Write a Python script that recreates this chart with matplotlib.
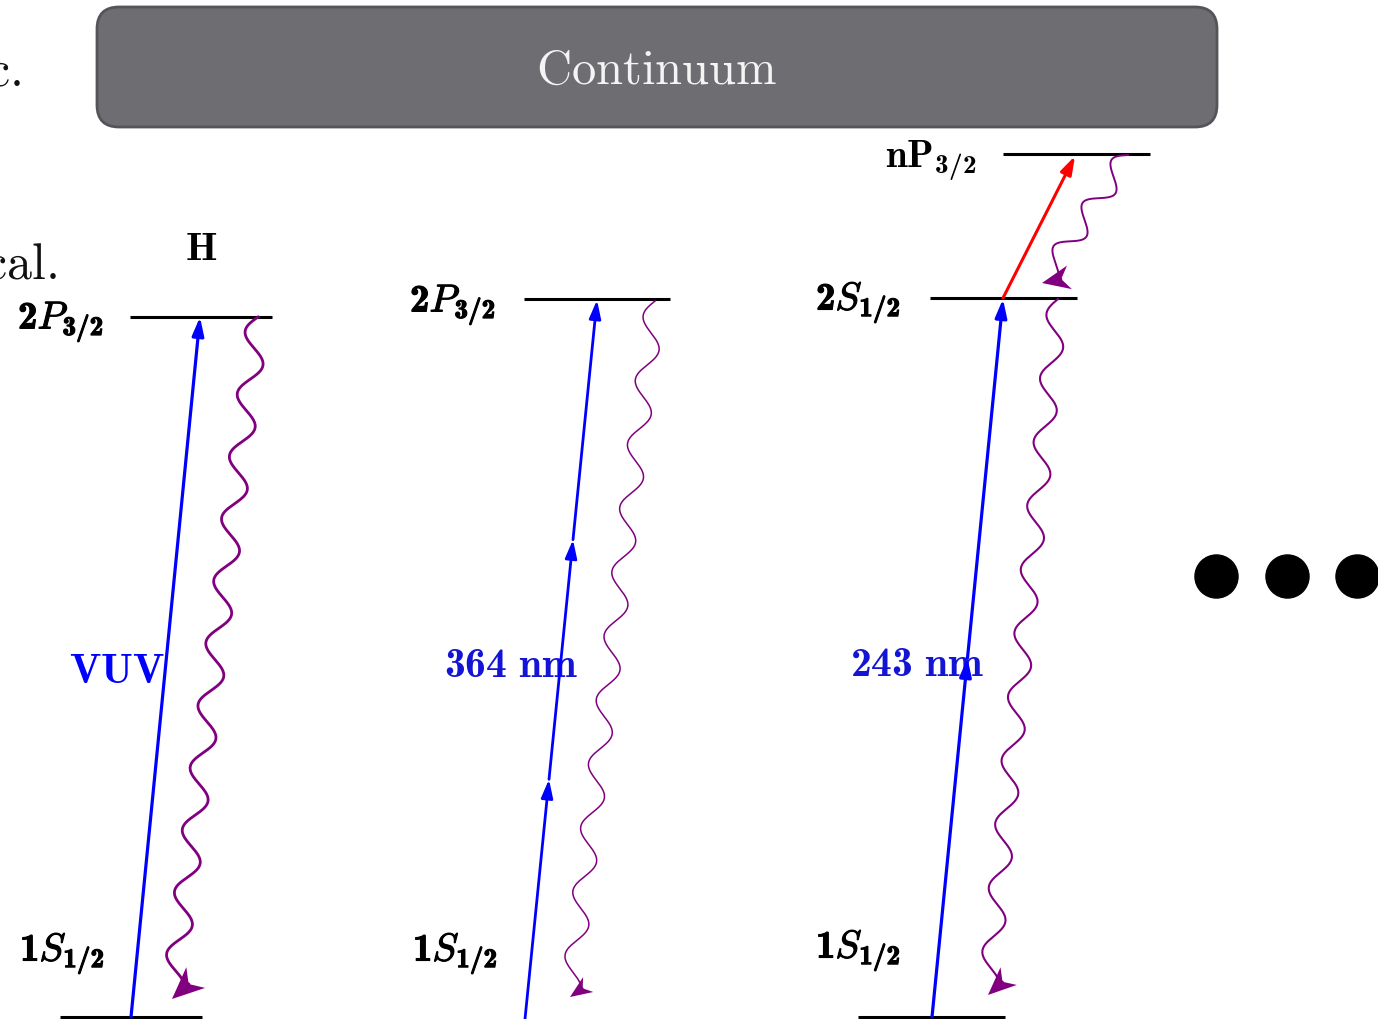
import matplotlib
matplotlib.use('Agg')
import matplotlib.pyplot as plt
import matplotlib.patheffects as pe
from matplotlib.patches import FancyBboxPatch
import numpy as np

plt.rcParams['mathtext.fontset'] = 'custom'
plt.rcParams['mathtext.rm'] = 'cmr10'
plt.rcParams['mathtext.it'] = 'cmmi10'
plt.rcParams['mathtext.bf'] = 'cmb10'
plt.rcParams['font.family'] = 'serif'

W, H = 1378, 1020

# ── Energy levels: label, y, x_left, x_right, label position ────────────────
LEVEL_LABELS = [r'$\mathbf{2}P_{\mathbf{3/2}}$', r'$\mathbf{1}S_{\mathbf{1/2}}$',
                r'$\mathbf{2}P_{\mathbf{3/2}}$', r'$\mathbf{1}S_{\mathbf{1/2}}$',
                r'$\mathbf{2}S_{\mathbf{1/2}}$', r'$\mathbf{1}S_{\mathbf{1/2}}$',
                r'$\mathbf{nP_{3/2}}$']
LEVEL_Y      = [318, 1018, 300, 1040, 299, 1018, 155]
LEVEL_X0     = [130, 60, 524, 454, 930, 858, 1003]
LEVEL_X1     = [272, 202, 670, 600, 1077, 1005, 1150]
LABEL_XY     = [(18, 323), (20, 955), (410, 306), (413, 955),
                (816, 304), (816, 952), (885, 161)]

# ── Excitation arrows: start, end, number of photon steps, label ─────────────
EXC_START  = [(131, 1018), (525, 1020), (932, 1018)]
EXC_END    = [(200, 318), (597, 301), (1003, 300)]
EXC_STEPS  = [1, 3, 2]
EXC_LW     = [2.3, 2.0, 2.3]
EXC_LABELS = [r'$\mathbf{VUV}$', r'$\mathbf{364\ nm}$', r'$\mathbf{243\ nm}$']
EXC_LABEL_XY = [(117, 671), (511, 665), (917, 664)]
EXC_LABEL_COL = ['#0000ff', '#1414d4', '#1414d4']

# ── Spontaneous decays (wavy) ────────────────────────────────────────────────
DEC_START = [(258, 318), (655, 302), (1058, 300), (1128, 156)]
DEC_END   = [(172, 1000), (570, 998), (988, 996), (1042, 284)]
DEC_LW    = [2.0, 1.1, 1.5, 1.4]
DEC_AMP   = [11, 10, 10, 11]
DEC_WAVE  = [62, 64, 62, 62]
DEC_HEAD  = [(32, 14), (22, 9), (28, 12), (28, 12)]   # length, half width (px)

PURPLE = '#800080'

fig = plt.figure(figsize=(W / 100, H / 100), dpi=100)
ax = fig.add_axes([0, 0, 1, 1])
ax.set_xlim(0, W)
ax.set_ylim(H, 0)
ax.axis('off')

bold = [pe.withStroke(linewidth=0.8, foreground='black')]

# continuum band
box = FancyBboxPatch((97, 8), 1120, 120, boxstyle='round,pad=0,rounding_size=22',
                     fc='#6e6d72', ec='#555459', lw=2.0)
ax.add_patch(box)
ax.text(657, 70, r'$\mathrm{Continuum}$', color='#f4f4f4', fontsize=35,
        ha='center', va='center')

# clipped text from the slide behind
ax.text(21, 72, r'$\mathrm{c.}$', fontsize=36, ha='right', va='center', color='#111111')
ax.text(57, 265, r'$\mathrm{cal.}$', fontsize=36, ha='right', va='center', color='#111111')

ax.text(201, 250, r'$\mathbf{H}$', fontsize=29, ha='center', va='center')

for lab, y, x0, x1, (lx, ly) in zip(LEVEL_LABELS, LEVEL_Y, LEVEL_X0, LEVEL_X1, LABEL_XY):
    ax.plot([x0, x1], [y, y], color='black', lw=2.2, solid_capstyle='butt', zorder=3)
    t = ax.text(lx, ly, lab, fontsize=28, ha='left', va='center')
    if 'mathbf{n' not in lab:
        t.set_path_effects(bold)

# excitation arrows, split into photon steps
for (x0, y0), (x1, y1), n, lw in zip(EXC_START, EXC_END, EXC_STEPS, EXC_LW):
    xs = np.linspace(x0, x1, n + 1)
    ys = np.linspace(y0, y1, n + 1)
    for i in range(n):
        ax.annotate('', xy=(xs[i + 1], ys[i + 1]), xytext=(xs[i], ys[i]),
                    arrowprops=dict(arrowstyle='-|>,head_length=1.1,head_width=0.35',
                                    color='#0000ff', lw=lw, shrinkA=0, shrinkB=0),
                    zorder=4)

for lab, (lx, ly), c in zip(EXC_LABELS, EXC_LABEL_XY, EXC_LABEL_COL):
    ax.text(lx, ly, lab, fontsize=30, color=c, ha='center', va='center', zorder=2)

# red arrow 2S -> nP
ax.annotate('', xy=(1075, 157), xytext=(1003, 299),
            arrowprops=dict(arrowstyle='-|>,head_length=1.1,head_width=0.35',
                            color='#ff0000', lw=2.2, shrinkA=0, shrinkB=0), zorder=4)


def stealth(tip, back, length, half):
    """Filled stealth head with its point at tip, aimed away from back."""
    tip = np.asarray(tip, float)
    u = tip - np.asarray(back, float)
    u /= np.hypot(*u)
    n = np.array([-u[1], u[0]])
    base = tip - length * u
    poly = np.array([tip, base + half * n, tip - 0.7 * length * u, base - half * n])
    ax.fill(poly[:, 0], poly[:, 1], color=PURPLE, lw=0, zorder=4)
    return tip - 0.7 * length * u


def wavy(p0, p1, amp, lam, lw, hl, hw):
    p0 = np.asarray(p0, float)
    p1 = np.asarray(p1, float)
    d = p1 - p0
    L = np.hypot(*d)
    t = d / L
    nrm = np.array([-t[1], t[0]])
    # finish the wave on its right-hand crest so the head points down-left
    run = L - 0.4 * hl
    k = max(round(run / lam - 0.75), 0)
    lam = run / (k + 0.75)
    s = np.linspace(0, run, 800)
    off = amp * np.sin(2 * np.pi * s / lam)
    pts = p0[None, :] + s[:, None] * t[None, :] + off[:, None] * nrm[None, :]
    notch = stealth(p1, pts[-1], hl, hw)
    pts = np.vstack([pts, notch])
    ax.plot(pts[:, 0], pts[:, 1], color=PURPLE, lw=lw, zorder=3)


for p0, p1, lw, a, lam, (hl, hw) in zip(DEC_START, DEC_END, DEC_LW, DEC_AMP,
                                        DEC_WAVE, DEC_HEAD):
    wavy(p0, p1, a, lam, lw, hl, hw)

# more systems follow
DOTS_X = [1216, 1287, 1357]
ax.plot(DOTS_X, [577] * 3, 'o', color='black', ms=31, zorder=3)

fig.savefig('out.png', dpi=100, facecolor='white')
